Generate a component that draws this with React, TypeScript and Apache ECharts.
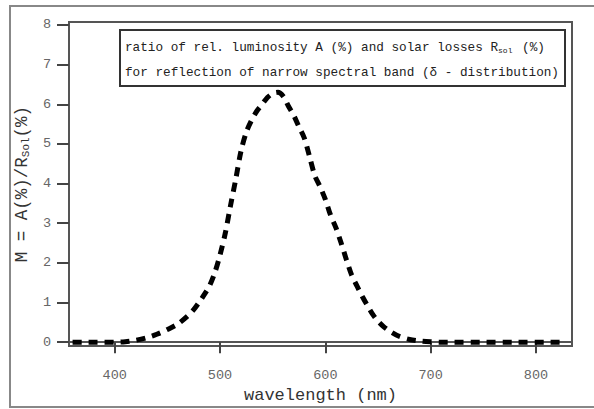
import React, { useEffect, useRef } from "react";
import * as echarts from "echarts";

const wavelengths = [
  360, 370, 380, 390, 400, 410, 420, 430, 440, 450,
  460, 470, 475, 480, 485, 490, 495, 500, 505, 510,
  515, 520, 525, 530, 535, 540, 545, 550, 555, 560,
  565, 570, 575, 580, 585, 590, 595, 600, 605, 610,
  615, 620, 625, 630, 635, 640, 645, 650, 655, 660,
  670, 680, 690, 700, 710, 720, 730, 740, 750, 760,
  770, 780, 790, 800, 810, 820, 825,
];
const ratioValues = [
  0, 0, 0, 0, 0, 0.01, 0.05, 0.11, 0.2, 0.32,
  0.46, 0.68, 0.82, 1.0, 1.2, 1.42, 1.75, 2.2, 2.75, 3.45,
  4.12, 4.83, 5.3, 5.6, 5.83, 6.0, 6.17, 6.27, 6.3, 6.2,
  5.95, 5.72, 5.43, 5.15, 4.68, 4.2, 3.92, 3.6, 3.2, 2.89,
  2.5, 2.08, 1.69, 1.42, 1.16, 0.92, 0.7, 0.53, 0.4, 0.3,
  0.15, 0.07, 0.03, 0.01, 0, 0, 0, 0, 0, 0,
  0, 0, 0, 0, 0, 0, 0,
];
const xTicks = [400, 500, 600, 700, 800];
const yTicks = [0, 1, 2, 3, 4, 5, 6, 7, 8];
const xName = "wavelength (nm)";
const yName = "M = A(%)/R{sub|Sol}(%)";
const boxLine1 = "ratio of rel. luminosity A (%) and solar losses R{sub|sol} (%)";
const boxLine2 = "for reflection of narrow spectral band (δ - distribution)";

const MONO = "'Liberation Mono', 'DejaVu Sans Mono', monospace";

export default function App() {
  const ref = useRef<HTMLDivElement>(null);
  useEffect(() => {
    document.body.style.margin = "0";
    if (!ref.current) return;
    const chart = echarts.init(ref.current, null, { renderer: "svg" });
    const data = wavelengths.map((w, i) => [w, ratioValues[i]]);
    chart.setOption({
      animation: false,
      backgroundColor: "#fff",
      grid: {
        show: true,
        left: 69,
        right: 22,
        top: 22,
        bottom: 55,
        borderColor: "#555",
        borderWidth: 2,
        backgroundColor: "transparent",
      },
      xAxis: {
        type: "value",
        min: 356.6,
        max: 834.2,
        name: xName,
        nameLocation: "middle",
        nameGap: 36,
        nameTextStyle: { fontFamily: MONO, fontSize: 17, color: "#333" },
        axisLine: { show: true, lineStyle: { color: "#555", width: 2 } },
        axisTick: { show: true, length: 11, customValues: xTicks, lineStyle: { color: "#444", width: 2 } },
        axisLabel: { customValues: xTicks, margin: 22, fontFamily: MONO, fontSize: 13.5, color: "#666" },
        splitLine: { show: false },
      },
      yAxis: {
        type: "value",
        min: -0.098,
        max: 8.074,
        name: yName,
        nameLocation: "middle",
        nameGap: 34,
        nameRotate: 90,
        nameTextStyle: {
          fontFamily: MONO,
          fontSize: 17.5,
          color: "#333",
          rich: {
            sub: { fontFamily: MONO, fontSize: 11, color: "#333", verticalAlign: "bottom", padding: [8, 0, 0, 0] },
          },
        },
        axisLine: { show: true, lineStyle: { color: "#555", width: 2 } },
        axisTick: { show: true, length: 12, customValues: yTicks, lineStyle: { color: "#444", width: 2 } },
        axisLabel: { customValues: yTicks, margin: 18, fontFamily: MONO, fontSize: 13.5, color: "#666" },
        splitLine: { show: false },
      },
      series: [
        {
          type: "line",
          data,
          smooth: 0.3,
          symbol: "none",
          lineStyle: { color: "#000", width: 5, type: [9, 7], cap: "butt" },
          z: 3,
        },
      ],
      graphic: [
        {
          type: "rect",
          shape: { x: 10, y: 6, width: 620, height: 401 },
          style: { fill: "none", stroke: "#888", lineWidth: 2 },
          silent: true,
          z: 0,
        },
        {
          type: "group",
          z: 10,
          children: [
            {
              type: "rect",
              shape: { x: 120, y: 30, width: 445, height: 56 },
              style: { fill: "#fff", stroke: "#333", lineWidth: 2 },
            },
            {
              type: "text",
              x: 125,
              y: 47,
              style: {
                text: boxLine1,
                fontFamily: MONO,
                fontSize: 12.7,
                fill: "#222",
                verticalAlign: "middle",
                rich: {
                  sub: { fontFamily: MONO, fontSize: 8, fill: "#222", padding: [6, 2, 0, 0] },
                },
              },
            },
            {
              type: "text",
              x: 125,
              y: 72,
              style: {
                text: boxLine2,
                fontFamily: MONO,
                fontSize: 12.7,
                fill: "#222",
                verticalAlign: "middle",
              },
            },
          ],
        },
      ],
    });
    return () => chart.dispose();
  }, []);
  return <div ref={ref} style={{ width: 594, height: 409 }} />;
}
